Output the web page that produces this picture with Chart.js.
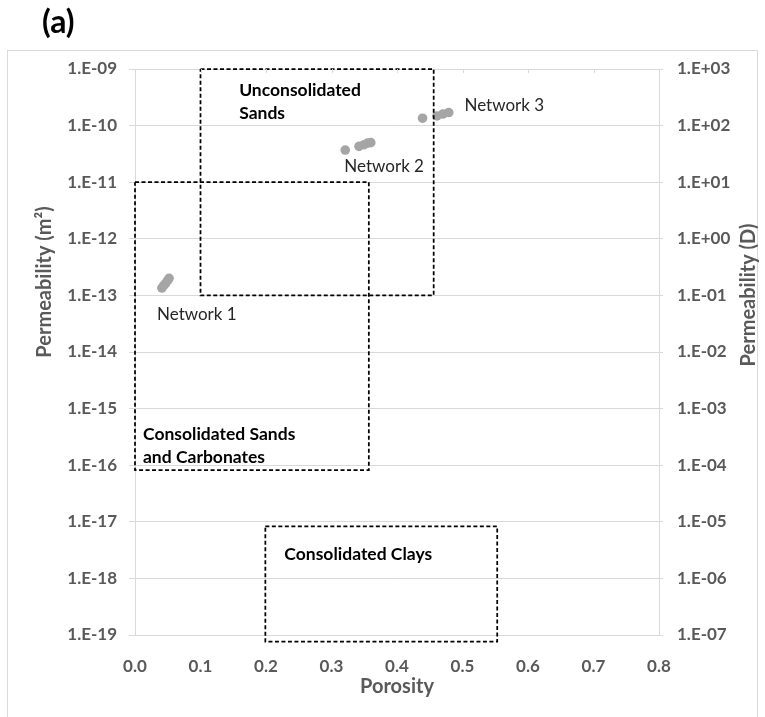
<!DOCTYPE html>
<html>
<head>
<meta charset="utf-8">
<script src="https://cdn.jsdelivr.net/npm/chart.js@4.4.1/dist/chart.umd.min.js"></script>
<style>
  html, body { margin: 0; padding: 0; background: #fff; }
  #wrap { width: 765px; height: 717px; }
</style>
</head>
<body>
<div id="wrap"><canvas id="c" width="765" height="717"></canvas></div>
<script>
// Porosity / permeability (m²) of the three pore networks
const network1Porosity = [0.041, 0.044, 0.047, 0.050, 0.052];
const network1Perm     = [1.35e-13, 1.5e-13, 1.65e-13, 1.85e-13, 2.0e-13];
const network2Porosity = [0.321, 0.342, 0.350, 0.355, 0.360];
const network2Perm     = [3.7e-11, 4.3e-11, 4.6e-11, 4.9e-11, 5.0e-11];
const network3Porosity = [0.439, 0.461, 0.470, 0.479];
const network3Perm     = [1.35e-10, 1.48e-10, 1.60e-10, 1.70e-10];

// Typical ranges of rock types: [min, max] porosity and permeability (m²)
const unconsolidatedSandsPorosity = [0.10, 0.456];
const unconsolidatedSandsPerm     = [1e-13, 1e-9];
const consolidatedSandsPorosity   = [0.0, 0.357];
const consolidatedSandsPerm       = [8.2e-17, 1e-11];
const consolidatedClaysPorosity   = [0.199, 0.553];
const consolidatedClaysPerm       = [7.6e-20, 8.3e-18];

// Axis ticks
const porosityTicks   = [0, 0.1, 0.2, 0.3, 0.4, 0.5, 0.6, 0.7, 0.8];
const porosityLabels  = ['0.0', '0.1', '0.2', '0.3', '0.4', '0.5', '0.6', '0.7', '0.8'];
const permM2Ticks     = [1e-19, 1e-18, 1e-17, 1e-16, 1e-15, 1e-14, 1e-13, 1e-12, 1e-11, 1e-10, 1e-9];
const permM2Labels    = ['1.E-19', '1.E-18', '1.E-17', '1.E-16', '1.E-15', '1.E-14', '1.E-13', '1.E-12', '1.E-11', '1.E-10', '1.E-09'];
const permDarcyTicks  = [1e-7, 1e-6, 1e-5, 1e-4, 1e-3, 1e-2, 1e-1, 1e0, 1e1, 1e2, 1e3];
const permDarcyLabels = ['1.E-07', '1.E-06', '1.E-05', '1.E-04', '1.E-03', '1.E-02', '1.E-01', '1.E+00', '1.E+01', '1.E+02', '1.E+03'];

const FONT = 'Lato, "Open Sans", sans-serif';
const AXIS_GREY = '#595959';
const GRID_GREY = '#d9d9d9';
const POINT_GREY = '#a5a5a5';

function toPoints(xs, ys) { return xs.map((x, i) => ({ x: x, y: ys[i] })); }
function boxOutline(px, py) {
  return [
    { x: px[0], y: py[1] }, { x: px[1], y: py[1] },
    { x: px[1], y: py[0] }, { x: px[0], y: py[0] },
    { x: px[0], y: py[1] }
  ];
}
function boxDataset(px, py) {
  return {
    data: boxOutline(px, py), showLine: true, pointRadius: 0,
    borderColor: '#000', borderWidth: 1.75, borderDash: [4, 2.5],
    borderJoinStyle: 'miter', fill: false, clip: false, tension: 0
  };
}
function pointDataset(xs, ys) {
  return {
    data: toPoints(xs, ys), showLine: false,
    pointRadius: 4.8, pointBackgroundColor: POINT_GREY, pointBorderWidth: 0,
    pointHoverRadius: 4.8
  };
}

// In-plot labels, anchored at data coordinates (left edge, first line middle)
const plotLabels = [
  { lines: ['Unconsolidated', 'Sands'], x: 0.159, y: 4.14e-10, bold: true },
  { lines: ['Consolidated Sands', 'and Carbonates'], x: 0.0122, y: 3.56e-16, bold: true },
  { lines: ['Consolidated Clays'], x: 0.228, y: 2.70e-18, bold: true },
  { lines: ['Network 1'], x: 0.0336, y: 4.51e-14, bold: false },
  { lines: ['Network 2'], x: 0.3196, y: 1.88e-11, bold: false },
  { lines: ['Network 3'], x: 0.503, y: 2.31e-10, bold: false }
];

const decorPlugin = {
  id: 'decor',
  beforeDraw(chart) {
    const ctx = chart.ctx;
    ctx.save();
    ctx.fillStyle = '#fff';
    ctx.fillRect(0, 0, chart.width, chart.height);
    ctx.strokeStyle = GRID_GREY;
    ctx.lineWidth = 1;
    ctx.strokeRect(7.5, 50.5, 750, 700);
    ctx.restore();
  },
  afterDraw(chart) {
    const ctx = chart.ctx;
    const xs = chart.scales.x, ys = chart.scales.y;
    const area = chart.chartArea;
    ctx.save();
    // small inward tick marks along the top edge
    ctx.strokeStyle = GRID_GREY;
    ctx.lineWidth = 1;
    porosityTicks.forEach(v => {
      const px = Math.round(xs.getPixelForValue(v)) + 0.5;
      ctx.beginPath();
      ctx.moveTo(px, area.top);
      ctx.lineTo(px, area.top + 4);
      ctx.stroke();
    });
    // labels inside the plot
    ctx.textAlign = 'left';
    ctx.textBaseline = 'middle';
    plotLabels.forEach(l => {
      ctx.font = (l.bold ? 'bold 17.5px ' : '17px ') + FONT;
      ctx.fillStyle = l.bold ? '#000' : '#262626';
      const px = xs.getPixelForValue(l.x), py = ys.getPixelForValue(l.y);
      l.lines.forEach((t, i) => ctx.fillText(t, px, py + i * 23));
    });
    // panel tag
    ctx.font = 'bold 32px ' + FONT;
    ctx.fillStyle = '#000';
    ctx.fillText('(a)', 42, 23);
    // axis titles
    ctx.font = 'bold 20px ' + FONT;
    ctx.fillStyle = AXIS_GREY;
    ctx.textAlign = 'center';
    ctx.fillText('Porosity', (area.left + area.right) / 2, 687);
    ctx.save();
    ctx.translate(45, 282);
    ctx.rotate(-Math.PI / 2);
    ctx.fillText('Permeability (m²)', 0, 0);
    ctx.restore();
    ctx.save();
    ctx.translate(749, 295);
    ctx.rotate(-Math.PI / 2);
    ctx.fillText('Permeability (D)', 0, 0);
    ctx.restore();
    ctx.restore();
  }
};

function fixedTicks(values) {
  return scale => { scale.ticks = values.map(v => ({ value: v })); };
}
function labelFor(values, labels) {
  return v => {
    const i = values.findIndex(t => Math.abs(Math.log10(t) - Math.log10(v)) < 1e-6);
    return i >= 0 ? labels[i] : '';
  };
}

new Chart(document.getElementById('c'), {
  type: 'scatter',
  data: {
    datasets: [
      boxDataset(unconsolidatedSandsPorosity, unconsolidatedSandsPerm),
      boxDataset(consolidatedSandsPorosity, consolidatedSandsPerm),
      boxDataset(consolidatedClaysPorosity, consolidatedClaysPerm),
      pointDataset(network1Porosity, network1Perm),
      pointDataset(network2Porosity, network2Perm),
      pointDataset(network3Porosity, network3Perm)
    ]
  },
  options: {
    responsive: false,
    animation: false,
    devicePixelRatio: 1,
    layout: { padding: { top: 69, left: 0, right: 0, bottom: 0 } },
    plugins: { legend: { display: false }, tooltip: { enabled: false } },
    scales: {
      x: {
        type: 'linear', position: 'bottom', min: 0, max: 0.8,
        afterBuildTicks: scale => { scale.ticks = porosityTicks.map(v => ({ value: v })); },
        afterFit: scale => { scale.height = 82; },
        ticks: {
          color: AXIS_GREY, font: { family: FONT, size: 17, weight: 'bold' }, padding: 13,
          maxRotation: 0, autoSkip: false,
          callback: v => { const i = porosityTicks.findIndex(t => Math.abs(t - v) < 1e-9); return i >= 0 ? porosityLabels[i] : ''; }
        },
        grid: { display: false },
        border: { display: true, color: GRID_GREY, width: 1 }
      },
      y: {
        type: 'logarithmic', position: 'left', min: 1e-19, max: 1e-9,
        afterBuildTicks: fixedTicks(permM2Ticks),
        afterFit: scale => { scale.width = 135; },
        ticks: {
          color: AXIS_GREY, font: { family: FONT, size: 17, weight: 'bold' }, padding: 12,
          autoSkip: false, callback: labelFor(permM2Ticks, permM2Labels)
        },
        grid: { color: GRID_GREY, lineWidth: 1, tickLength: 6, drawTicks: true },
        border: { display: true, color: GRID_GREY, width: 1 }
      },
      y2: {
        type: 'logarithmic', position: 'right', min: 1e-7, max: 1e3,
        afterBuildTicks: fixedTicks(permDarcyTicks),
        afterFit: scale => { scale.width = 106; },
        ticks: {
          color: AXIS_GREY, font: { family: FONT, size: 17, weight: 'bold' }, padding: 14,
          autoSkip: false, callback: labelFor(permDarcyTicks, permDarcyLabels)
        },
        grid: { drawOnChartArea: false, color: GRID_GREY, lineWidth: 1, tickLength: 4 },
        border: { display: true, color: GRID_GREY, width: 1 }
      }
    }
  },
  plugins: [decorPlugin]
});
</script>
</body>
</html>
